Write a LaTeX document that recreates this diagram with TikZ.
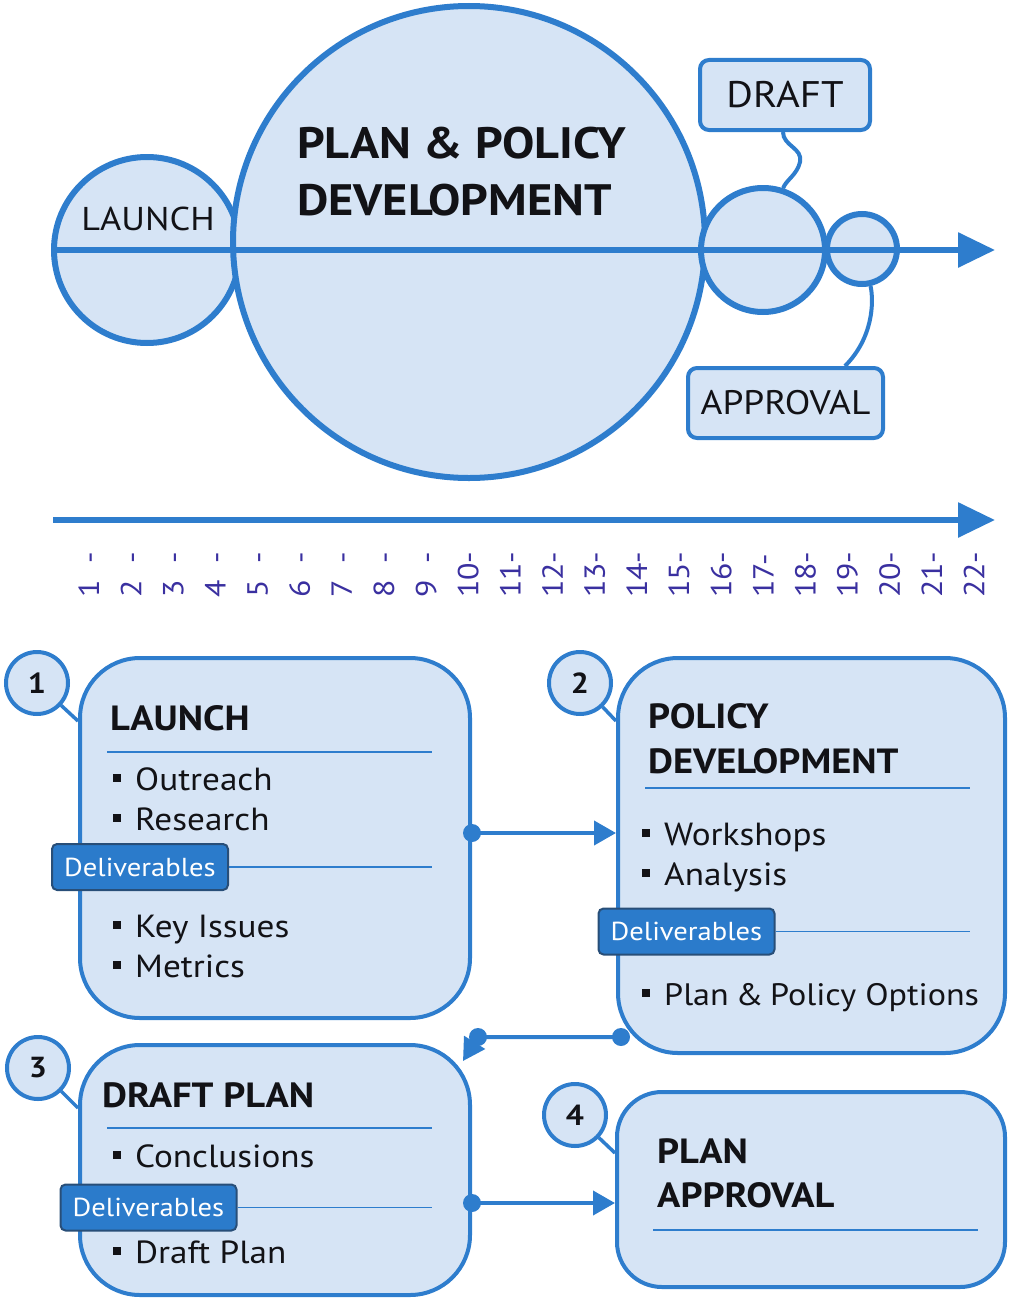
\documentclass[tikz,border=0pt]{standalone}
\usepackage{fontspec}
\setmainfont{PT Sans}[FakeStretch=1.1]
\usetikzlibrary{arrows.meta,calc}

\definecolor{flow}{RGB}{46,125,205}
\definecolor{paper}{RGB}{214,228,245}
\definecolor{tagfill}{RGB}{43,123,203}
\definecolor{tagline}{RGB}{40,78,120}
\definecolor{tickink}{RGB}{58,48,160}
\definecolor{ink}{RGB}{18,18,22}

\newcommand{\bulletsq}{\rule[8pt]{8pt}{8pt}\hspace{14pt}}

\begin{document}
\begin{tikzpicture}[x=1pt,y=-1pt,
  bubble/.style={circle,draw=flow,fill=paper,line width=6pt,inner sep=0pt},
  axisline/.style={draw=flow,line width=6pt,-{Triangle[length=37pt,width=34pt]}},
  callout/.style={draw=flow,fill=paper,line width=4pt,rounded corners=9pt,inner sep=0pt,
    text=ink,font=\fontsize{37}{40}\selectfont},
  link/.style={draw=flow,line width=4pt},
  stage/.style={draw=flow,fill=paper,line width=4pt,rounded corners=60pt,inner sep=0pt},
  numbubble/.style={circle,draw=flow,fill=paper,line width=4pt,minimum size=62pt,inner sep=0pt,
    text=ink,font=\bfseries\fontsize{29}{30}\selectfont},
  tie/.style={draw=flow,line width=3.5pt},
  flowarrow/.style={draw=flow,line width=4pt,-{Triangle[length=22pt,width=24pt]}},
  sep/.style={draw=flow,line width=1.5pt},
  tag/.style={draw=tagline,fill=tagfill,line width=2pt,rounded corners=5pt,minimum width=176pt,
    minimum height=46pt,inner sep=0pt,text=white,font=\fontsize{26}{27}\selectfont},
  title/.style={anchor=base west,inner sep=0pt,text=ink,font=\bfseries\fontsize{35}{40}\selectfont},
  item/.style={anchor=base west,inner sep=0pt,text=ink,font=\fontsize{32}{36}\selectfont},
  ticklabel/.style={anchor=west,rotate=90,inner sep=0pt,text=tickink,font=\fontsize{29}{30}\selectfont},
]
\useasboundingbox (0,0) rectangle (1009,1298);

% ---------- phase bubbles on the upper time line ----------
\node[bubble,minimum size=186pt] (cL) at (147,250) {};
\node[bubble,minimum size=472pt] (cP) at (469,242) {};
\node[bubble,minimum size=124pt] (cD) at (763,250) {};
\node[bubble,minimum size=70pt]  (cA) at (862,249) {};

\coordinate (ax0) at (53,250);
\coordinate (ax1) at (995,250);
\draw[axisline] (ax0) -- (ax1);

\node[anchor=base,inner sep=0pt,text=ink,font=\fontsize{33}{36}\selectfont] (tL) at (148,230) {LAUNCH};
\node[anchor=base west,inner sep=0pt,text=ink,font=\bfseries\fontsize{44}{48}\selectfont] (tP1) at (297,158) {PLAN \& POLICY};
\node[anchor=base west,inner sep=0pt,text=ink,font=\bfseries\fontsize{44}{48}\selectfont] (tP2) at (297,215) {DEVELOPMENT};

% callouts for the two short phases
\node[callout,minimum width=170pt,minimum height=70pt] (bD) at (785,95) {DRAFT};
\node[callout,minimum width=195pt,minimum height=70pt,font=\fontsize{34}{36}\selectfont] (bA) at (785.5,403) {APPROVAL};

\draw[link] ([xshift=-2pt]bD.south) .. controls (783,146) and (803,148) .. (800,162)
  .. controls (797,175) and (786,180) .. (cD.72);
\draw[link] (cA.-77) .. controls (874,302) and (873,338) .. ([xshift=-40pt]bA.north east);

% ---------- week scale ----------
\coordinate (tl0) at (53,520);
\coordinate (tl1) at (995,520);
\draw[axisline] (tl0) -- (tl1);

\foreach \i in {1,...,22}{
  \pgfmathsetmacro{\xx}{89+(\i-1)*42.14}
  \node[ticklabel] (tk\i) at (\xx,598) {\ifnum\i<10 \i\phantom{0}-\else\i-\fi};
}

% ---------- stage boxes ----------
\node[stage,minimum width=390pt,minimum height=360pt] (s1) at (275,838) {};
\node[stage,minimum width=387pt,minimum height=395pt] (s2) at (811.5,855.5) {};
\node[stage,minimum width=390pt,minimum height=250pt] (s3) at (275,1170) {};
\node[stage,minimum width=388pt,minimum height=195pt,rounded corners=45pt] (s4) at (811,1189.5) {};

% numbered badges
\node[numbubble] (n1) at (37,683) {1};
\node[numbubble] (n2) at (580,683) {2};
\node[numbubble] (n3) at (38,1068) {3};
\node[numbubble] (n4) at (575,1115) {4};
\draw[tie] (n1) -- ([yshift=-65pt]s1.north west);
\draw[tie] (n2) -- ([yshift=-65pt]s2.north west);
\draw[tie] (n3) -- ([yshift=-65pt]s3.north west);
\draw[tie] (n4) -- ([yshift=-63pt]s4.north west);

% stage 1
\node[title] (h1) at (110,730) {LAUNCH};
\draw[sep] (107,752) -- (432,752);
\node[item] (i11) at (113,790) {\bulletsq Outreach};
\node[item] (i12) at (113,830) {\bulletsq Research};
\node[tag] (d1) at (140,867) {Deliverables};
\draw[sep] (d1.east) -- (432,867);
\node[item] (i13) at (113,937) {\bulletsq Key Issues};
\node[item] (i14) at (113,977) {\bulletsq Metrics};

% stage 2
\node[title] (h21) at (648,728) {POLICY};
\node[title] (h22) at (648,773) {DEVELOPMENT};
\draw[sep] (645,788) -- (970,788);
\node[item] (i21) at (642,845) {\bulletsq Workshops};
\node[item] (i22) at (642,885) {\bulletsq Analysis};
\node[tag] (d2) at (686.5,931.5) {Deliverables};
\draw[sep] (d2.east) -- (970,931.5);
\node[item,font=\fontsize{31}{36}\selectfont] (i23) at (642,1005) {\bulletsq Plan\hspace{0.22em}\&\hspace{0.22em}Policy Options};

% stage 3
\node[title] (h3) at (102,1107) {DRAFT PLAN};
\draw[sep] (107,1128) -- (432,1128);
\node[item] (i31) at (113,1167) {\bulletsq Conclusions};
\node[tag] (d3) at (148.5,1207.5) {Deliverables};
\draw[sep] (d3.east) -- (432,1207.5);
\node[item] (i32) at (113,1263) {\bulletsq Draft Plan};

% stage 4
\node[title] (h41) at (657,1163) {PLAN};
\node[title] (h42) at (657,1207) {APPROVAL};
\draw[sep] (653,1230) -- (978,1230);

% ---------- flow between stages ----------
\coordinate (o1) at ([yshift=5pt]s1.east);
\draw[flowarrow] (o1) -- (o1 -| s2.west);
\fill[flow] (o1) circle (9pt);

\coordinate (o2) at (621,1037);
\coordinate (k2) at (478,1037);
\coordinate (e3) at (463,1061);
\draw[flowarrow] (o2) -- (k2) -- (e3);
\fill[flow] (o2) circle (9pt);
\fill[flow] (k2) circle (9pt);

\coordinate (o3) at ([yshift=-33pt]s3.east);
\draw[flowarrow] (o3) -- (o3 -| s4.west);
\fill[flow] (o3) circle (9pt);
\end{tikzpicture}
\end{document}
